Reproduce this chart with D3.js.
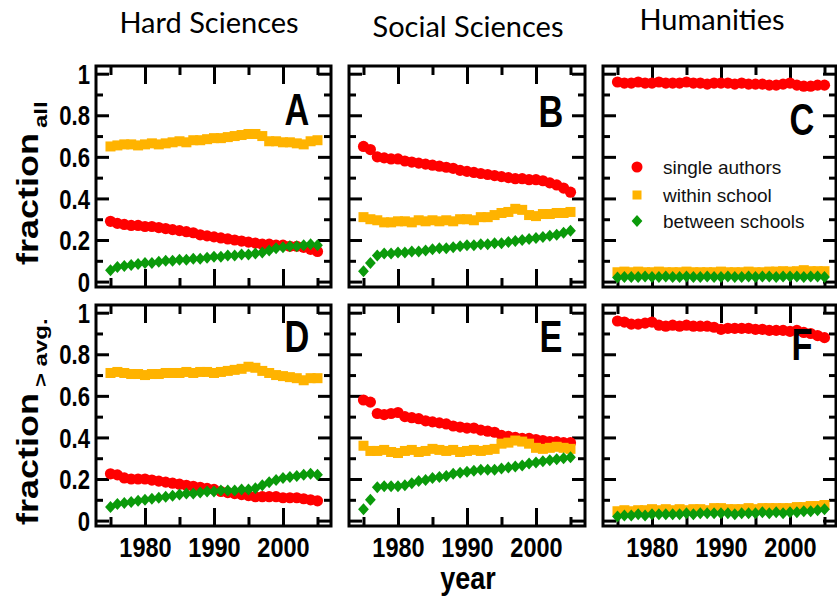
<!DOCTYPE html>
<html><head><meta charset="utf-8">
<script src="https://cdn.jsdelivr.net/npm/d3@7"></script>
<style>body{margin:0;background:#fff}svg{display:block}</style>
</head><body>
<svg id="fig" width="837" height="596"></svg>
<script>
// ---- data ---------------------------------------------------------------
const years = [1975,1976,1977,1978,1979,1980,1981,1982,1983,1984,1985,1986,1987,1988,1989,1990,
               1991,1992,1993,1994,1995,1996,1997,1998,1999,2000,2001,2002,2003,2004,2005];

// fraction of all papers
const hardAllSingle  = [.290,.280,.275,.270,.270,.265,.265,.260,.255,.250,.245,.240,.235,.225,.220,.215,.210,.205,.200,.195,.190,.185,.180,.180,.175,.175,.170,.170,.165,.155,.145];
const hardAllWithin  = [.650,.655,.660,.660,.655,.660,.665,.660,.665,.670,.675,.670,.680,.680,.685,.690,.690,.695,.700,.705,.710,.710,.700,.675,.675,.670,.670,.665,.660,.675,.680];
const hardAllBetween = [.055,.070,.075,.080,.085,.090,.090,.095,.100,.100,.105,.105,.110,.110,.115,.120,.120,.125,.125,.130,.130,.135,.140,.150,.160,.165,.170,.170,.175,.180,.175];

const socAllSingle  = [.650,.635,.600,.595,.590,.590,.580,.575,.570,.565,.560,.555,.550,.545,.535,.530,.525,.520,.515,.510,.505,.500,.495,.495,.490,.490,.485,.475,.465,.450,.430];
const socAllWithin  = [.310,.300,.295,.285,.285,.290,.290,.285,.295,.290,.295,.290,.295,.290,.300,.300,.295,.310,.310,.320,.330,.335,.350,.345,.320,.315,.325,.325,.330,.330,.335];
const socAllBetween = [.050,.090,.125,.135,.135,.140,.140,.145,.145,.150,.155,.160,.160,.165,.170,.175,.175,.180,.180,.185,.185,.190,.195,.200,.205,.210,.215,.220,.225,.235,.245];

const humAllSingle  = [.960,.955,.955,.960,.955,.955,.960,.955,.955,.955,.960,.955,.955,.950,.955,.955,.955,.950,.955,.950,.950,.950,.945,.945,.950,.955,.945,.940,.940,.945,.945];
const humAllWithin  = [.045,.048,.045,.048,.045,.045,.048,.045,.045,.045,.048,.045,.045,.045,.045,.048,.045,.045,.045,.048,.045,.045,.048,.048,.050,.048,.050,.055,.050,.050,.050];
const humAllBetween = [.020,.022,.022,.022,.025,.022,.022,.025,.022,.022,.025,.022,.022,.025,.022,.022,.025,.022,.022,.025,.022,.025,.025,.022,.025,.025,.025,.022,.025,.025,.022];

// fraction of papers with above-average impact
const hardAvgSingle  = [.225,.220,.205,.200,.200,.200,.195,.190,.185,.180,.175,.170,.165,.160,.155,.150,.140,.135,.130,.125,.120,.115,.115,.115,.115,.110,.110,.110,.105,.100,.095];
const hardAvgWithin  = [.710,.715,.710,.705,.705,.700,.705,.705,.710,.710,.710,.715,.710,.715,.715,.710,.715,.720,.725,.730,.740,.735,.720,.710,.700,.695,.690,.685,.675,.685,.685];
const hardAvgBetween = [.065,.080,.085,.090,.095,.100,.105,.110,.115,.120,.125,.130,.130,.135,.140,.140,.145,.145,.145,.150,.150,.155,.170,.185,.195,.205,.210,.215,.220,.225,.220];

const socAvgSingle  = [.580,.570,.515,.510,.515,.520,.500,.495,.490,.480,.475,.470,.465,.455,.450,.445,.445,.435,.430,.425,.410,.405,.400,.395,.395,.390,.385,.380,.380,.375,.375];
const socAvgWithin  = [.360,.335,.335,.340,.330,.325,.335,.340,.330,.335,.345,.340,.335,.340,.330,.335,.340,.335,.340,.345,.370,.375,.385,.380,.370,.350,.345,.350,.355,.350,.345];
const socAvgBetween = [.055,.100,.160,.165,.165,.165,.170,.180,.190,.195,.205,.210,.215,.225,.230,.235,.240,.245,.245,.245,.250,.255,.260,.265,.275,.280,.285,.290,.295,.300,.305];

const humAvgSingle  = [.960,.955,.945,.945,.950,.955,.940,.935,.940,.935,.940,.935,.935,.935,.930,.920,.925,.925,.925,.925,.920,.920,.915,.915,.915,.910,.915,.905,.900,.890,.880];
const humAvgWithin  = [.045,.050,.045,.050,.050,.055,.050,.055,.050,.055,.050,.055,.055,.050,.060,.060,.055,.055,.055,.060,.055,.060,.060,.060,.060,.060,.065,.065,.070,.070,.075];
const humAvgBetween = [.020,.025,.025,.030,.025,.030,.030,.030,.030,.030,.035,.030,.035,.035,.035,.035,.035,.030,.035,.035,.035,.040,.035,.040,.035,.040,.040,.045,.045,.050,.055];

const columnTitles = ["Hard Sciences", "Social Sciences", "Humanities"];
const panelLetters = ["A", "B", "C", "D", "E", "F"];
const seriesNames  = ["single authors", "within school", "between schools"];
const yMajor = [0, 0.2, 0.4, 0.6, 0.8, 1];
const yMinor = [0.1, 0.3, 0.5, 0.7, 0.9];
const xMajor = [1980, 1990, 2000];
const xMinor = [1975, 1985, 1995, 2005];

const panels = [
  [hardAllSingle, hardAllWithin, hardAllBetween],
  [socAllSingle,  socAllWithin,  socAllBetween],
  [humAllSingle,  humAllWithin,  humAllBetween],
  [hardAvgSingle, hardAvgWithin, hardAvgBetween],
  [socAvgSingle,  socAvgWithin,  socAvgBetween],
  [humAvgSingle,  humAvgWithin,  humAvgBetween]
];

// ---- layout -------------------------------------------------------------
const colLeft = [96, 349, 603];
const colWidth = [235, 236, 233];
const rowTop = [66, 305];
const panelH = 221;
const pxPerYear = 6.9;
const xStart = 1972.9;
const colors = ["#ff0000", "#ffb300", "#0a9a0a"];
const squeeze = 0.82;   // narrow bold type used throughout the plots
const boldFont = "'Liberation Sans', Arial, sans-serif";

const svg = d3.select("#fig");

// diamond marker path
const diamond = (s) => `M0,${-s}L${s*0.9},0L0,${s}L${-s*0.9},0Z`;

function drawMarker(sel, k, size) {
  if (k === 0) sel.append("circle").attr("r", size).attr("fill", colors[0]);
  else if (k === 1) sel.append("rect").attr("x", -size).attr("y", -size)
      .attr("width", 2*size).attr("height", 2*size).attr("fill", colors[1]);
  else sel.append("path").attr("d", diamond(size)).attr("fill", colors[2]);
}

panels.forEach((series, i) => {
  const col = i % 3, row = Math.floor(i / 3);
  const w = colWidth[col];
  const g = svg.append("g").attr("transform", `translate(${colLeft[col]},${rowTop[row]})`);
  const x = d3.scaleLinear().domain([xStart, xStart + w / pxPerYear]).range([0, w]);
  const y = d3.scaleLinear().domain([-0.026, 1.037]).range([panelH, 0]);

  // ticks pointing inward on all four sides
  const tickStyle = (a) => a.call(s => s.select(".domain").remove())
      .call(s => s.selectAll(".tick line").attr("stroke", "#000").attr("stroke-width", 3));
  g.append("g").call(d3.axisBottom(x).tickValues(xMajor).tickSize(-18).tickFormat(""))
    .attr("transform", `translate(0,${panelH})`).call(tickStyle);
  g.append("g").call(d3.axisBottom(x).tickValues(xMinor).tickSize(-9).tickFormat(""))
    .attr("transform", `translate(0,${panelH})`).call(tickStyle);
  g.append("g").call(d3.axisTop(x).tickValues(xMajor).tickSize(-18).tickFormat("")).call(tickStyle);
  g.append("g").call(d3.axisTop(x).tickValues(xMinor).tickSize(-9).tickFormat("")).call(tickStyle);
  g.append("g").call(d3.axisLeft(y).tickValues(yMajor).tickSize(-13).tickFormat("")).call(tickStyle);
  g.append("g").call(d3.axisLeft(y).tickValues(yMinor).tickSize(-7).tickFormat("")).call(tickStyle);
  g.append("g").attr("transform", `translate(${w},0)`)
    .call(d3.axisRight(y).tickValues(yMajor).tickSize(-13).tickFormat("")).call(tickStyle);
  g.append("g").attr("transform", `translate(${w},0)`)
    .call(d3.axisRight(y).tickValues(yMinor).tickSize(-7).tickFormat("")).call(tickStyle);

  // tick labels: y on the left column, x on the bottom row
  if (col === 0) {
    const ay = g.append("g").call(d3.axisLeft(y).tickValues(yMajor).tickSize(0).tickFormat(d => String(d)));
    ay.select(".domain").remove();
    ay.selectAll(".tick text").attr("x", null).attr("dy", "0.36em")
      .attr("transform", `translate(-6,0) scale(${squeeze},1)`)
      .attr("font-family", boldFont).attr("font-weight", "bold").attr("font-size", 27).attr("fill", "#000");
  }
  if (row === 1) {
    const ax = g.append("g").attr("transform", `translate(0,${panelH})`)
      .call(d3.axisBottom(x).tickValues(xMajor).tickSize(0).tickFormat(d => String(d)));
    ax.select(".domain").remove();
    ax.selectAll(".tick text").attr("y", null).attr("dy", null)
      .attr("transform", `translate(0,31) scale(${squeeze + 0.05},1)`)
      .attr("font-family", boldFont).attr("font-weight", "bold").attr("font-size", 27).attr("fill", "#000");
  }

  // data markers
  series.forEach((vals, k) => {
    const sg = g.append("g");
    vals.forEach((v, j) => {
      const m = sg.append("g").attr("transform", `translate(${x(years[j])},${y(v)})`);
      drawMarker(m, k, k === 0 ? 5.6 : (k === 1 ? 5 : 6));
    });
  });

  // panel letter
  const letterY = [125, 127, 135, 352, 352, 360][i];
  g.append("g").attr("transform", `translate(${w - 34},${letterY - rowTop[row]}) scale(0.78,1)`)
    .append("text").attr("text-anchor", "middle")
    .attr("font-family", boldFont).attr("font-weight", "bold").attr("font-size", 44)
    .text(panelLetters[i]);

  // frame
  g.append("rect").attr("width", w).attr("height", panelH)
    .attr("fill", "none").attr("stroke", "#000").attr("stroke-width", 3);

  // legend inside the humanities panel
  if (i === 2) {
    const lg = g.append("g");
    const rowsY = [167, 195, 221];
    seriesNames.forEach((name, k) => {
      const m = lg.append("g").attr("transform", `translate(${637 - colLeft[col]},${rowsY[k] - rowTop[row]})`);
      drawMarker(m, k, k === 0 ? 5.5 : (k === 1 ? 4.5 : 6));
      lg.append("text").attr("x", 663 - colLeft[col]).attr("y", rowsY[k] - rowTop[row]).attr("dy", "0.35em")
        .attr("font-family", boldFont).attr("font-size", 19).attr("fill", "#111").text(name);
    });
  }
});

// column headings
const titleX = [209, 468, 712], titleY = [33, 37, 30];
columnTitles.forEach((t, c) => {
  svg.append("text").attr("x", titleX[c]).attr("y", titleY[c]).attr("text-anchor", "middle")
    .attr("font-family", "Lato, 'Open Sans', sans-serif").attr("font-size", 29).text(t);
});

// y-axis titles with subscripts
function yTitle(yStart, sub, subDx) {
  const t = svg.append("g").attr("transform", `translate(38,${yStart}) scale(0.8,1) rotate(-90)`)
    .append("text").attr("font-family", boldFont).attr("font-weight", "bold").attr("font-size", 36);
  t.append("tspan").text("fraction");
  t.append("tspan").attr("dx", subDx).attr("dy", 11).attr("font-size", 24).text(sub);
}
yTitle(265, "all", 5);
yTitle(525, "> avg.", 6);

// shared x-axis title
svg.append("g").attr("transform", `translate(468,589) scale(0.87,1)`)
  .append("text").attr("text-anchor", "middle")
  .attr("font-family", boldFont).attr("font-weight", "bold").attr("font-size", 31).text("year");
</script>
</body></html>
